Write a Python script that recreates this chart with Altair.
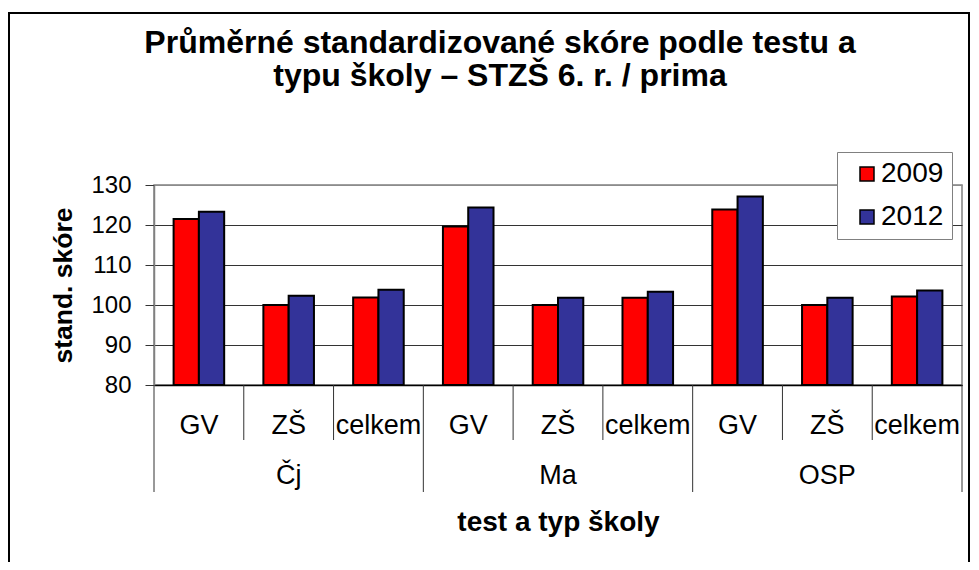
import altair as alt
import pandas as pd

# ---- data ----
tests = ["Čj", "Ma", "OSP"]
school_types = ["GV", "ZŠ", "celkem"]
years = ["2009", "2012"]
scores_2009 = [121.5, 100.0, 101.9, 119.6, 100.0, 101.8, 123.9, 100.0, 102.1]
scores_2012 = [123.3, 102.3, 103.8, 124.4, 101.8, 103.3, 127.1, 101.8, 103.6]
y_domain = [80, 130]
y_ticks = [80, 90, 100, 110, 120, 130]
title_lines = ["Průměrné standardizované skóre podle testu a",
               "typu školy – STZŠ 6. r. / prima"]
y_title = "stand. skóre"
x_title = "test a typ školy"
bar_colors = ["#FF0000", "#333399"]

FONT = "Liberation Sans"

keys = [f"{t}|{s}" for t in tests for s in school_types]
rows = []
for i, k in enumerate(keys):
    rows.append({"key": k, "year": years[0], "score": scores_2009[i]})
    rows.append({"key": k, "year": years[1], "score": scores_2012[i]})
df = pd.DataFrame(rows)

long_df = pd.DataFrame({"key": [f"{t}|{school_types[0]}" for t in tests]})
short_df = pd.DataFrame({"key": [f"{t}|{s}" for t in tests for s in school_types[1:]]})
end_df = pd.DataFrame({"key": [keys[-1]]})
group_df = pd.DataFrame({"key": [f"{t}|{school_types[1]}" for t in tests], "test": tests})
frame_df = pd.DataFrame({"k": [0]})

x_scale = alt.Scale(domain=keys, paddingInner=0, paddingOuter=0)

bars = alt.Chart(df).mark_bar(stroke="black", strokeWidth=2).encode(
    x=alt.X("key:N", scale=x_scale,
            axis=alt.Axis(title=x_title, labelExpr="split(datum.value, '|')[1]",
                          bandPosition=0.5, labelAlign="center",
                          labelAngle=0, labelBaseline="alphabetic", labelPadding=48,
                          ticks=False, tickSize=0, domainColor="black", domainWidth=1.5,
                          labelFontSize=27, labelColor="black", labelFont=FONT,
                          labelOverlap=False, labelFlush=False,
                          titleFontSize=28, titleFontWeight="bold", titleFont=FONT,
                          titleBaseline="alphabetic", titleY=145, titleColor="black",
                          grid=False)),
    xOffset=alt.XOffset("year:N", scale=alt.Scale(domain=years, paddingInner=0, paddingOuter=0.775)),
    y=alt.Y("score:Q", scale=alt.Scale(domain=y_domain, zero=False, nice=False),
            axis=alt.Axis(values=y_ticks, grid=True,
                          gridColor={"condition": {"test": "datum.value === 130", "value": "#8c8c8c"},
                                     "value": "#333333"},
                          gridWidth=1, domainColor="#808080", domainWidth=1.5,
                          tickColor="#333333", tickSize=9, tickWidth=1,
                          labelFontSize=24, labelPadding=14, labelColor="black", labelFont=FONT,
                          title=y_title, titleFontSize=26.5, titleFontWeight="bold",
                          titleFont=FONT, titlePadding=13, titleColor="black")),
    y2=alt.datum(y_domain[0]),
    color=alt.Color("year:N", scale=alt.Scale(domain=years, range=bar_colors),
                    legend=alt.Legend(title=None, orient="none", legendX=683, legendY=-33,
                                      symbolType="square", symbolSize=196,
                                      symbolStrokeColor="black", symbolStrokeWidth=1.5,
                                      labelFontSize=28, labelFont=FONT, labelColor="black",
                                      labelOffset=0, symbolOffset=8, padding=8,
                                      rowPadding=15, fillColor="white",
                                      strokeColor="#808080")),
)

sep_long = alt.Chart(long_df).mark_rule(color="#333333", strokeWidth=1).encode(
    x=alt.X("key:N", scale=x_scale, bandPosition=0),
    y=alt.value(200), y2=alt.value(307))
sep_short = alt.Chart(short_df).mark_rule(color="#333333", strokeWidth=1).encode(
    x=alt.X("key:N", scale=x_scale, bandPosition=0),
    y=alt.value(200), y2=alt.value(255))
sep_end = alt.Chart(end_df).mark_rule(color="#333333", strokeWidth=1).encode(
    x=alt.X("key:N", scale=x_scale, bandPosition=1),
    y=alt.value(200), y2=alt.value(307))

group_labels = alt.Chart(group_df).mark_text(fontSize=27, font=FONT, baseline="alphabetic",
                                             color="black").encode(
    x=alt.X("key:N", scale=x_scale),
    y=alt.value(299),
    text="test:N")

title_text = alt.Chart(frame_df).mark_text(
    text=title_lines, fontSize=32, fontWeight="bold", font=FONT, lineHeight=33,
    baseline="alphabetic", align="center", color="black"
).encode(x=alt.value(346), y=alt.value(-132))

frame_left = alt.Chart(frame_df).mark_rule(color="black", strokeWidth=2).encode(
    x=alt.value(-145), y=alt.value(-172), y2=alt.value(377))
frame_top = alt.Chart(frame_df).mark_rule(color="black", strokeWidth=2).encode(
    x=alt.value(-146), x2=alt.value(816), y=alt.value(-172))
frame_right = alt.Chart(frame_df).mark_rule(color="black", strokeWidth=2).encode(
    x=alt.value(815), y=alt.value(-172), y2=alt.value(377))

chart = alt.layer(
    frame_left, frame_top, frame_right, title_text,
    sep_long, sep_short, sep_end, bars, group_labels
).properties(
    width=808, height=200,
    autosize=alt.AutoSizeParams(type="none"),
    padding={"left": 146, "top": 177, "right": 9, "bottom": 177},
).configure_view(stroke="#808080", strokeWidth=1.5)

chart.save("out.html", embed_options={"renderer": "svg", "actions": False})
